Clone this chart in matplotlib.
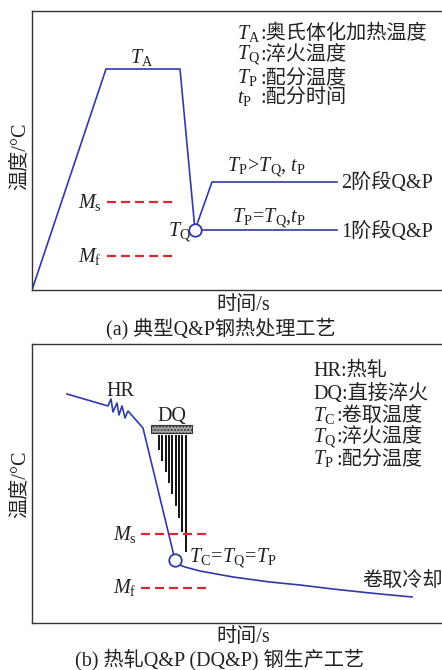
import matplotlib.pyplot as plt
from matplotlib.patches import Rectangle

plt.rcParams['font.family'] = ['Liberation Serif', 'Noto Sans CJK SC']
plt.rcParams['mathtext.fontset'] = 'custom'
plt.rcParams['mathtext.rm'] = 'Liberation Serif'
plt.rcParams['mathtext.it'] = 'Liberation Serif:italic'
plt.rcParams['lines.scale_dashes'] = False

# ---- (a) 典型Q&P钢热处理工艺: 时间/温度 示意值 ----
qp_t = [0, 74, 148, 163]
qp_T = [0, 221, 221, 60]
qp2_t = [163, 180, 305]          # 2阶段 Q&P
qp2_T = [60, 108, 108]
qp1_t = [163, 305]               # 1阶段 Q&P
qp1_T = [60, 60]
tq_a = (163, 60)
ms_a, mf_a = 88, 34
m_span_a = [75, 144]

legend_a_sym = [r'$T_\mathrm{A}$', r'$T_\mathrm{Q}$', r'$T_\mathrm{P}$', r'$t_\mathrm{P}$']
legend_a_txt = [':奥氏体化加热温度', ':淬火温度', ':配分温度', ':配分时间']
legend_a_y = [251, 230, 207, 187]

# ---- (b) 热轧Q&P (DQ&P) 钢生产工艺 ----
hr_t = [35, 76, 79, 81, 85, 87, 90, 93, 96, 111, 143]
hr_T = [229, 217, 224, 211, 220, 208, 217, 205, 212, 195, 63]
coil_t = [143, 145, 153, 168, 201, 238, 268, 301, 338, 380]
coil_T = [63, 59, 56, 52, 46, 41, 38, 34, 30, 26]
tq_b = (143, 63)
ms_b, mf_b = 89, 35
m_span_b = [109, 179]
spray_t = [127, 130.3, 133.6, 137, 140.3, 143.6, 147, 150.3, 153.6]
spray_low = [173, 162, 151, 140, 129, 117, 105, 91, 71]
spray_top = 188
dq_bar = (119, 190, 41, 8)       # t, T, 宽, 高

legend_b_txt = ['HR:热轧', 'DQ:直接淬火']
legend_b_sym = [r'$T_\mathrm{C}$', r'$T_\mathrm{Q}$', r'$T_\mathrm{P}$']
legend_b_sym_txt = [':卷取温度', ':淬火温度', ':配分温度']
legend_b_y = [247, 224, 202, 181, 159]

blue = '#2f3aa8'
red = '#d42a34'
ink = '#222222'
FS = 14.5

W, H = 442, 670
fig = plt.figure(figsize=(W / 100, H / 100), dpi=100)
ax_a = fig.add_axes([32 / W, 1 - 290 / H, 414 / W, 279 / H])
ax_b = fig.add_axes([32 / W, 1 - 623 / H, 414 / W, 279 / H])
for ax in (ax_a, ax_b):
    ax.set_xlim(0, 414)
    ax.set_ylim(0, 279)
    ax.set_xticks([])
    ax.set_yticks([])
    for s in ax.spines.values():
        s.set_linewidth(1.0)
        s.set_color('#333333')

# ----- 图(a) -----
ax = ax_a
ax.plot(qp_t, qp_T, color=blue, lw=1.2)
ax.plot(qp2_t, qp2_T, color=blue, lw=1.2)
ax.plot(qp1_t, qp1_T, color=blue, lw=1.2)
ax.plot(*tq_a, 'o', ms=9, mfc='white', mec=blue, mew=1.3, zorder=5)
ax.plot(m_span_a, [ms_a, ms_a], color=red, lw=1.6, dashes=[6.5, 3.6])
ax.plot(m_span_a, [mf_a, mf_a], color=red, lw=1.6, dashes=[6.5, 3.6])

ax.text(98, 227, r'$T_\mathrm{A}$', fontsize=FS, color=ink)
ax.text(46, 82, r'$M_\mathrm{s}$', fontsize=FS, color=ink)
ax.text(46, 28, r'$M_\mathrm{f}$', fontsize=FS, color=ink)
ax.text(136, 53, r'$T_\mathrm{Q}$', fontsize=FS, color=ink)
ax.text(195, 118, r'$T_\mathrm{P}\!>\!T_\mathrm{Q}$, $t_\mathrm{P}$', fontsize=FS, color=ink)
ax.text(200, 67, r'$T_\mathrm{P}\!=\!T_\mathrm{Q}$,$t_\mathrm{P}$', fontsize=FS, color=ink)
ax.text(309, 102, '2阶段Q&P', fontsize=FS, color=ink)
ax.text(309, 53, '1阶段Q&P', fontsize=FS, color=ink)
for sym, txt, y in zip(legend_a_sym, legend_a_txt, legend_a_y):
    ax.text(205, y, sym, fontsize=FS, color=ink)
    ax.text(228, y, txt, fontsize=FS, color=ink)

# ----- 图(b) -----
ax = ax_b
ax.plot(hr_t, hr_T, color=blue, lw=1.2)
ax.plot(coil_t, coil_T, color=blue, lw=1.2)
ax.plot(*tq_b, 'o', ms=9, mfc='white', mec=blue, mew=1.3, zorder=5)
ax.vlines(spray_t, spray_low, spray_top, color='black', lw=1.3)
ax.add_patch(Rectangle(dq_bar[:2], dq_bar[2], dq_bar[3], fc='#a9a9a9',
                       ec='#333333', lw=0.8, hatch='.....'))
ax.plot(m_span_b, [ms_b, ms_b], color=red, lw=1.6, dashes=[6.5, 3.6], zorder=4)
ax.plot(m_span_b, [mf_b, mf_b], color=red, lw=1.6, dashes=[6.5, 3.6])

ax.text(74, 227, 'HR', fontsize=FS, color=ink)
ax.text(125, 202, 'DQ', fontsize=FS, color=ink)
ax.text(81, 83, r'$M_\mathrm{s}$', fontsize=FS, color=ink)
ax.text(81, 30, r'$M_\mathrm{f}$', fontsize=FS, color=ink)
ax.text(157, 61, r'$T_\mathrm{C}\!=\!T_\mathrm{Q}\!=\!T_\mathrm{P}$', fontsize=FS, color=ink)
ax.text(330, 37, '卷取冷却', fontsize=FS, color=ink)
for txt, y in zip(legend_b_txt, legend_b_y[:2]):
    ax.text(281, y, txt, fontsize=FS, color=ink)
for sym, txt, y in zip(legend_b_sym, legend_b_sym_txt, legend_b_y[2:]):
    ax.text(281, y, sym, fontsize=FS, color=ink)
    ax.text(304, y, txt, fontsize=FS, color=ink)

# 坐标轴标题与图题
fig.text(20 / W, 1 - 156 / H, '温度/°C', rotation=90, ha='center', va='center', fontsize=FS, color=ink)
fig.text(243 / W, 1 - 306 / H, '时间/s', ha='center', va='center', fontsize=FS, color=ink)
fig.text(221 / W, 1 - 329 / H, '(a) 典型Q&P钢热处理工艺', ha='center', va='center', fontsize=FS, color=ink)
fig.text(20 / W, 1 - 484 / H, '温度/°C', rotation=90, ha='center', va='center', fontsize=FS, color=ink)
fig.text(243 / W, 1 - 638 / H, '时间/s', ha='center', va='center', fontsize=FS, color=ink)
fig.text(220 / W, 1 - 660 / H, '(b) 热轧Q&P (DQ&P) 钢生产工艺', ha='center', va='center', fontsize=FS, color=ink)

fig.savefig('out.png', dpi=100)
